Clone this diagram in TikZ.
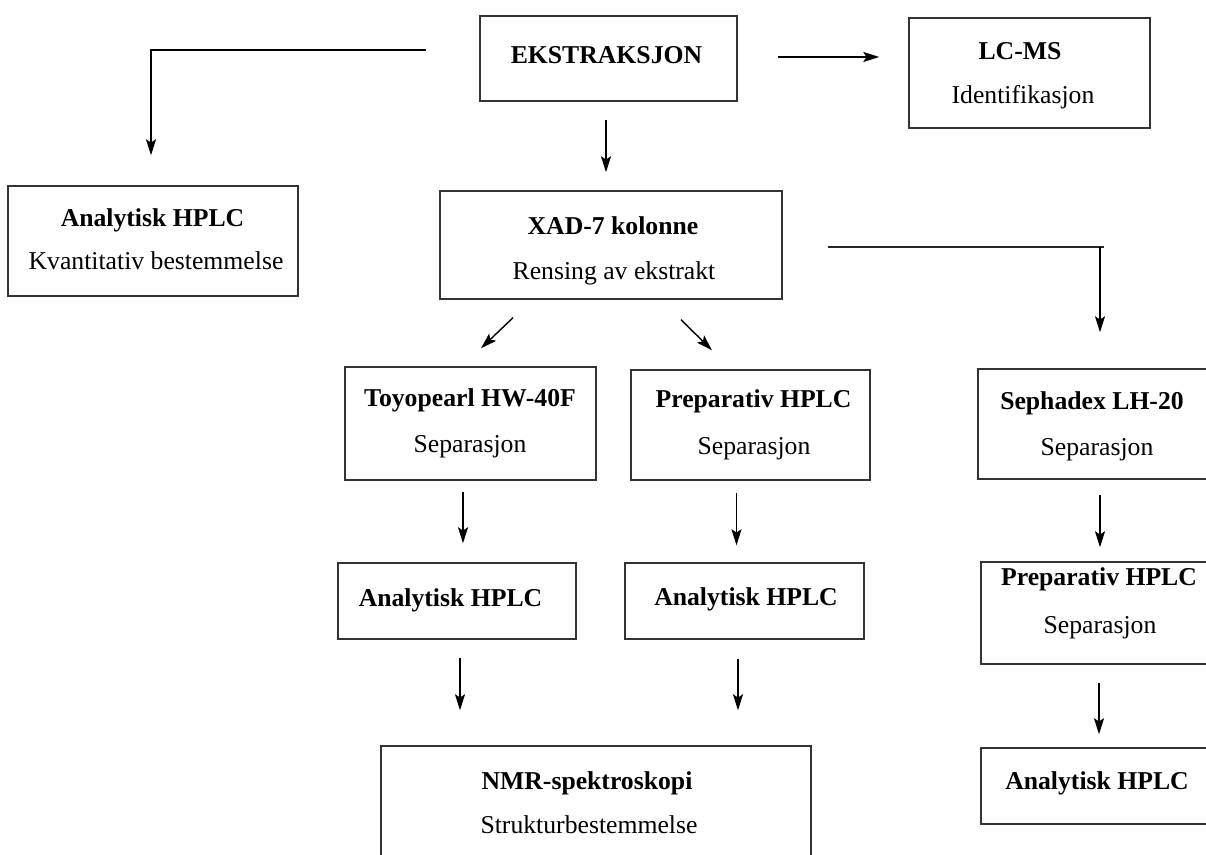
\documentclass[tikz,border=0pt]{standalone}
\usepackage{fontspec}
\setmainfont{Liberation Serif}
\usetikzlibrary{arrows.meta,calc}
\begin{document}
\begin{tikzpicture}[x=0.5pt,y=-0.5pt,
  box/.style 2 args={draw=black!80, line width=0.7pt, inner sep=0pt,
    minimum width=#1*0.5pt, minimum height=#2*0.5pt},
  ttl/.style={inner sep=0pt, anchor=base, font=\fontsize{12.85pt}{15pt}\selectfont\bfseries},
  sub/.style={inner sep=0pt, anchor=base, font=\fontsize{12.85pt}{15pt}\selectfont},
  arr/.style={draw=black, line width=0.7pt, -{Stealth[length=8pt,width=5pt,inset=1.6pt]}},
  ln/.style={draw=black!85, line width=0.7pt}]
\useasboundingbox (0,0) rectangle (1206,855);
\clip (0,0) rectangle (1206,855);
% boxes
\node[box={257}{85}]  (ekstr) at (608.5,58.5) {};
\node[box={241}{110}] (lcms)  at (1029.5,73) {};
\node[box={290}{110}] (anaL)  at (153,241) {};
\node[box={342}{108}] (xad)   at (611,245) {};
\node[box={251}{113}] (toyo)  at (470.5,423.5) {};
\node[box={239}{110}] (prepM) at (750.5,425) {};
\node[box={238}{76}]  (anaMa) at (457,601) {};
\node[box={239}{76}]  (anaMb) at (744.5,601) {};
\node[box={430}{124}] (nmr)   at (596,808) {};
\node[box={252}{110}] (seph)  at (1104,424) {};
\node[box={249}{102}] (prepR) at (1105.5,613) {};
\node[box={249}{76}]  (anaR)  at (1105.5,786) {};
% texts
\node[ttl] (ekstrT) at (606.5,64) {EKSTRAKSJON};
\node[ttl] (lcmsT) at (1020,60) {LC-MS};
\node[sub] (lcmsS) at (1023,104) {Identifikasjon};
\node[ttl] (anaLT) at (152.5,227) {Analytisk HPLC};
\node[sub] (anaLS) at (156,270) {Kvantitativ bestemmelse};
\node[ttl] (xadT) at (613,235) {XAD-7 kolonne};
\node[sub] (xadS) at (614,280) {Rensing av ekstrakt};
\node[ttl] (toyoT) at (470,407) {Toyopearl HW-40F};
\node[sub] (toyoS) at (470,453) {Separasjon};
\node[ttl] (prepMT) at (753.5,408) {Preparativ HPLC};
\node[sub] (prepMS) at (754,455) {Separasjon};
\node[ttl] (anaMaT) at (450.5,607) {Analytisk HPLC};
\node[ttl] (anaMbT) at (746,606) {Analytisk HPLC};
\node[ttl] (nmrT) at (587,789) {NMR-spektroskopi};
\node[sub] (nmrS) at (589,834) {Strukturbestemmelse};
\node[ttl] (sephT) at (1092,410) {Sephadex LH-20};
\node[sub] (sephS) at (1097,456) {Separasjon};
\node[ttl] (prepRT) at (1099,586) {Preparativ HPLC};
\node[sub] (prepRS) at (1100,634) {Separasjon};
\node[ttl] (anaRT) at (1097,789) {Analytisk HPLC};
% connectors
\draw[arr] ($(ekstr.west)+(-53,-8.5)$) -| ($(anaL.north)+(-2,-30)$);
\draw[arr] ($(ekstr.east)+(40,-1.5)$) -- ($(lcms.west)+(-29,-16)$);
\draw[arr] ($(ekstr.south)+(-2.5,18)$) -- ($(xad.north)+(-5,-18)$);
\coordinate (corner) at (1100,247);
\draw[ln] ($(xad.east)+(45,2)$) -- ($(corner)+(4,0)$);
\draw[arr] (corner) -- ($(seph.north)+(-4,-36)$);
\draw[arr] ($(xad.south)+(-98,18)$) -- ($(toyo.north)+(10.5,-18)$);
\draw[arr] ($(xad.south)+(70,20)$) -- ($(prepM.north)+(-38.5,-19)$);
\draw[arr] ($(toyo.south)+(-7.5,11)$) -- ($(anaMa.north)+(6,-19)$);
\draw[arr] ($(prepM.south)+(-14,12)$) -- ($(anaMb.north)+(-8,-17)$);
\draw[arr] ($(anaMa.south)+(3,18)$) -- ($(nmr.north)+(-136,-35)$);
\draw[arr] ($(anaMb.south)+(-6.5,19)$) -- ($(nmr.north)+(142,-35)$);
\draw[arr] ($(seph.south)+(-4,15)$) -- ($(prepR.north)+(-5.5,-14)$);
\draw[arr] ($(prepR.south)+(-6.5,18)$) -- ($(anaR.north)+(-6.5,-13)$);
\end{tikzpicture}
\end{document}
